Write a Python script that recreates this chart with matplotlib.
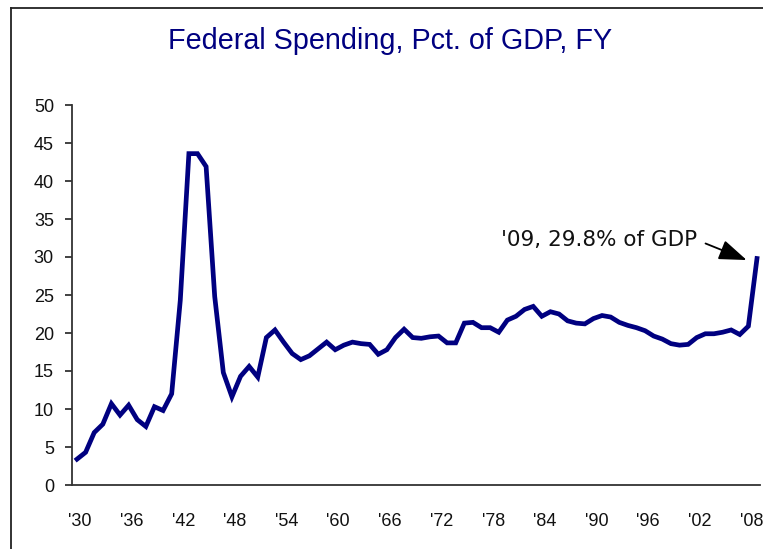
import matplotlib
matplotlib.use("Agg")
import matplotlib.pyplot as plt
from matplotlib.lines import Line2D
from matplotlib.transforms import ScaledTranslation

years = list(range(1930, 2010))
spending = [3.4, 4.3, 6.9, 8.0, 10.7, 9.2, 10.5, 8.6, 7.7, 10.3,
            9.8, 12.0, 24.3, 43.6, 43.6, 41.9, 24.8, 14.8, 11.6, 14.3,
            15.6, 14.2, 19.4, 20.4, 18.8, 17.3, 16.5, 17.0, 17.9, 18.8,
            17.8, 18.4, 18.8, 18.6, 18.5, 17.2, 17.8, 19.4, 20.5, 19.4,
            19.3, 19.5, 19.6, 18.7, 18.7, 21.3, 21.4, 20.7, 20.7, 20.1,
            21.7, 22.2, 23.1, 23.5, 22.2, 22.8, 22.5, 21.6, 21.3, 21.2,
            21.9, 22.3, 22.1, 21.4, 21.0, 20.7, 20.3, 19.6, 19.2, 18.6,
            18.4, 18.5, 19.4, 19.9, 19.9, 20.1, 20.4, 19.8, 20.9, 29.8]
tick_years = list(range(1930, 2009, 6))
tick_labels = ["'30", "'36", "'42", "'48", "'54", "'60", "'66", "'72",
               "'78", "'84", "'90", "'96", "'02", "'08"]
y_ticks = list(range(0, 51, 5))
title = "Federal Spending, Pct. of GDP, FY"
note = "'09, 29.8% of GDP"

W, H = 763, 549
fig = plt.figure(figsize=(W / 100, H / 100), dpi=100)
ax = fig.add_axes([72 / W, 1 - 485 / H, (760 - 72) / W, (485 - 105) / H])

ax.plot(years, spending, color="#000080", lw=3.4, solid_joinstyle="miter")
ax.set_xlim(1929.42, 2009.35)
ax.set_ylim(0, 50)
ax.set_yticks(y_ticks)
ax.set_xticks(tick_years)
ax.set_xticklabels(tick_labels)

for s in ["top", "right"]:
    ax.spines[s].set_visible(False)
for s in ["left", "bottom"]:
    ax.spines[s].set_color("#333333")
    ax.spines[s].set_linewidth(1.3)

font = "Liberation Sans"
ax.tick_params(axis="y", length=5, width=1.3, color="#333333", direction="out",
               pad=8, labelsize=13, labelcolor="#111111")
ax.tick_params(axis="x", length=0, pad=20, labelsize=13, labelcolor="#111111")
shift = ScaledTranslation(3 / 100, 0, fig.dpi_scale_trans)
for lab in ax.get_xticklabels():
    lab.set_fontfamily(font)
    lab.set_transform(lab.get_transform() + shift)
for lab in ax.get_yticklabels():
    lab.set_fontfamily(font)

fig.text(390 / W, 1 - 41 / H, title, ha="center", va="center",
         fontsize=20.7, color="#000080", fontfamily=font)

ax.annotate(note, xy=(2007.8, 29.6), xytext=(2002.1, 32.2),
            ha="right", va="center", fontsize=15.5, fontfamily="DejaVu Sans",
            color="#111111",
            arrowprops=dict(arrowstyle="-|>,head_length=1.1,head_width=0.4",
                            color="black", lw=1.3, shrinkA=4, shrinkB=0,
                            relpos=(1.0, 0.5)))

# frame of the original chart area (cropped at right and bottom)
fig.add_artist(Line2D([11 / W, 11 / W], [1 - 8 / H, 0], transform=fig.transFigure,
                      color="#222222", lw=1.3))
fig.add_artist(Line2D([11 / W, 1], [1 - 8 / H, 1 - 8 / H], transform=fig.transFigure,
                      color="#222222", lw=1.3))

fig.savefig("out.png", dpi=100)
